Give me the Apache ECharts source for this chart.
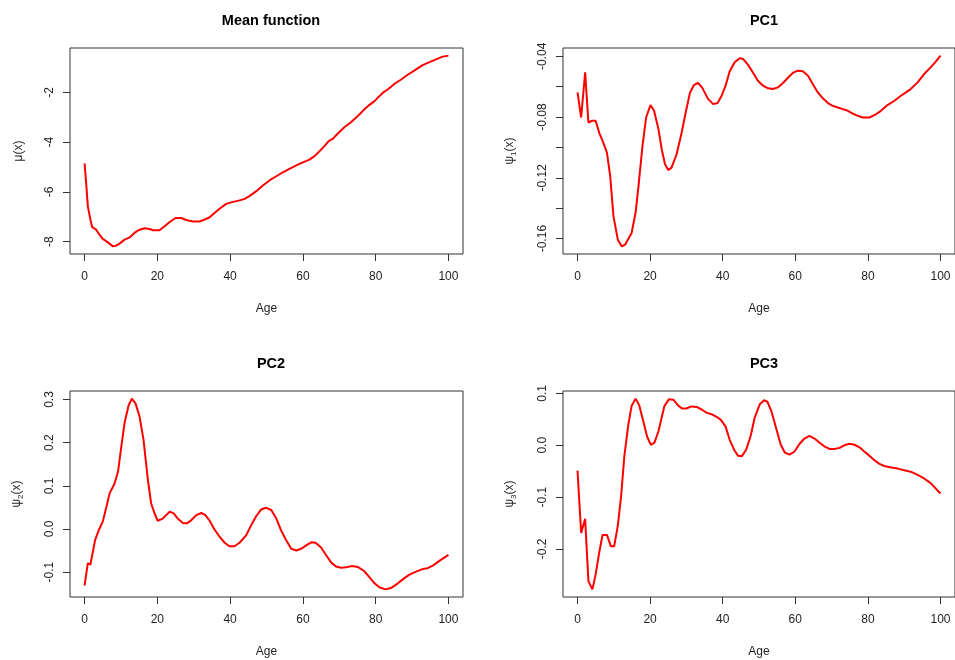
<!DOCTYPE html>
<html>
<head>
<meta charset="utf-8">
<script src="https://cdn.jsdelivr.net/npm/echarts@6/dist/echarts.min.js"></script>
<style>
  html, body { margin: 0; padding: 0; background: #fff; }
  #chart { width: 955px; height: 660px; }
</style>
</head>
<body>
<div id="chart"></div>
<script>
// Mean function mu(x) over age
const meanAge = [0,0.5,0.9,1.6,2.1,3.2,4.1,5.0,6.4,7.8,8.7,9.6,11.0,12.4,13.7,15.1,16.5,17.9,18.8,20.6,22.0,23.4,25.0,26.6,27.9,29.8,31.6,33.0,34.3,35.7,37.1,38.9,40.8,42.6,44.0,45.3,47.2,49.0,50.8,52.7,54.5,56.3,58.2,60.0,61.8,63.2,64.6,65.9,67.1,68.2,69.6,71.4,73.3,75.1,76.9,78.3,79.7,80.6,82.0,83.3,85.2,87.0,88.8,90.7,92.9,94.8,96.6,98.4,100];
const meanVal = [-4.85,-5.77,-6.58,-7.11,-7.42,-7.52,-7.72,-7.89,-8.03,-8.19,-8.16,-8.08,-7.92,-7.83,-7.65,-7.52,-7.46,-7.49,-7.54,-7.54,-7.38,-7.21,-7.05,-7.05,-7.13,-7.19,-7.19,-7.11,-7.03,-6.85,-6.68,-6.48,-6.40,-6.34,-6.28,-6.17,-5.97,-5.74,-5.54,-5.37,-5.21,-5.07,-4.93,-4.81,-4.70,-4.56,-4.36,-4.16,-3.96,-3.87,-3.65,-3.40,-3.19,-2.95,-2.68,-2.50,-2.35,-2.21,-2.01,-1.88,-1.65,-1.48,-1.29,-1.11,-0.90,-0.78,-0.67,-0.56,-0.52];

// First eigenfunction psi1(x)
const pc1Age = [0,1.0,2.1,3.0,3.9,5.0,6.0,7.1,8.1,9.0,9.9,11.1,12.2,13.1,14.9,16.0,16.8,17.9,18.9,20.1,21.1,22.3,23.2,24.1,25.0,25.9,27.3,28.7,29.8,31.0,32.1,33.2,34.3,36.0,37.4,38.6,39.7,40.8,41.9,43.3,44.7,45.6,47.0,48.4,49.7,51.1,52.5,53.8,55.2,56.6,57.9,59.3,60.7,62.1,63.5,64.8,66.2,67.6,69.0,70.3,71.7,73.1,74.5,75.8,77.2,78.6,80.4,81.8,83.6,85.4,87.3,89.1,90.5,91.8,93.7,95.5,97.3,98.7,100];
const pc1Val = [-0.0638,-0.0803,-0.0506,-0.0836,-0.0825,-0.0825,-0.0906,-0.0968,-0.1034,-0.1188,-0.1452,-0.1607,-0.1651,-0.1640,-0.1563,-0.1430,-0.1254,-0.0990,-0.0803,-0.0721,-0.0759,-0.0880,-0.1012,-0.1111,-0.1149,-0.1133,-0.1045,-0.0902,-0.0770,-0.0638,-0.0589,-0.0576,-0.0605,-0.0682,-0.0715,-0.0708,-0.0660,-0.0594,-0.0501,-0.0440,-0.0413,-0.0418,-0.0457,-0.0510,-0.0561,-0.0594,-0.0611,-0.0616,-0.0605,-0.0576,-0.0543,-0.0510,-0.0495,-0.0499,-0.0528,-0.0583,-0.0638,-0.0677,-0.0708,-0.0726,-0.0737,-0.0748,-0.0759,-0.0777,-0.0792,-0.0803,-0.0803,-0.0788,-0.0759,-0.0721,-0.0693,-0.0660,-0.0638,-0.0616,-0.0572,-0.0517,-0.0473,-0.0435,-0.0396];

// Second eigenfunction psi2(x)
const pc2Age = [0,0.9,1.6,2.1,2.9,3.9,5.0,6.0,6.9,8.2,9.2,10.1,11.0,12.1,13.0,14.0,15.1,16.2,17.4,18.3,19.2,20.1,21.5,22.4,23.4,24.5,25.6,27.0,28.1,29.3,30.7,32.1,33.2,34.3,35.7,37.1,38.5,39.8,41.2,42.6,44.4,45.8,47.2,48.5,49.9,51.3,52.7,54.0,55.4,56.8,58.2,59.5,60.9,62.3,63.5,65.0,66.4,67.8,69.1,70.5,71.9,73.5,75.1,76.9,78.3,79.7,81.0,82.7,84.2,86.1,87.9,89.3,91.1,92.9,94.3,95.7,97.5,100];
const pc2Val = [-0.131,-0.079,-0.083,-0.087,-0.026,-0.003,0.017,0.051,0.083,0.104,0.133,0.191,0.246,0.286,0.302,0.291,0.261,0.207,0.114,0.059,0.037,0.019,0.024,0.032,0.040,0.036,0.024,0.014,0.013,0.020,0.032,0.037,0.032,0.020,-0.001,-0.018,-0.032,-0.040,-0.040,-0.032,-0.015,0.009,0.030,0.045,0.049,0.044,0.024,-0.003,-0.026,-0.046,-0.050,-0.046,-0.038,-0.031,-0.032,-0.043,-0.061,-0.078,-0.087,-0.090,-0.089,-0.086,-0.088,-0.098,-0.112,-0.126,-0.135,-0.140,-0.137,-0.126,-0.114,-0.106,-0.099,-0.093,-0.091,-0.085,-0.074,-0.060];

// Third eigenfunction psi3(x)
const pc3Age = [0,1.0,2.1,3.0,4.1,5.0,6.0,6.9,8.1,9.2,10.1,11.1,12.0,12.9,14.0,14.9,16.0,17.0,18.1,19.2,20.2,21.2,22.3,23.9,25.2,26.4,27.7,28.8,30.0,31.4,32.8,34.2,35.5,36.9,38.3,39.5,40.8,41.9,43.1,44.2,45.3,46.5,47.7,48.8,50.2,51.4,52.3,53.4,54.8,56.0,57.1,58.4,59.8,61.2,62.5,63.9,65.3,66.7,68.0,69.4,70.8,72.2,73.5,74.9,76.3,77.7,79.0,80.4,81.8,83.2,84.5,86.4,88.2,90.0,91.8,93.7,95.5,97.3,100];
const pc3Val = [-0.049,-0.169,-0.142,-0.262,-0.278,-0.249,-0.206,-0.173,-0.173,-0.195,-0.195,-0.155,-0.099,-0.021,0.040,0.076,0.090,0.077,0.047,0.016,0.001,0.005,0.027,0.075,0.089,0.088,0.077,0.071,0.071,0.075,0.074,0.069,0.063,0.060,0.055,0.049,0.036,0.011,-0.008,-0.020,-0.021,-0.008,0.018,0.053,0.079,0.087,0.084,0.066,0.031,0.001,-0.014,-0.018,-0.012,0.003,0.013,0.018,0.013,0.005,-0.002,-0.007,-0.007,-0.005,0.000,0.003,0.001,-0.004,-0.012,-0.020,-0.029,-0.036,-0.040,-0.043,-0.045,-0.048,-0.051,-0.057,-0.064,-0.073,-0.093];

// Tick positions
const ageTicks = [0, 20, 40, 60, 80, 100];
const meanTicks = [-8, -6, -4, -2];
const pc1Ticks = [-0.16, -0.14, -0.12, -0.10, -0.08, -0.06, -0.04];
const pc1Labels = [-0.16, -0.12, -0.08, -0.04];
const pc2Ticks = [-0.1, 0.0, 0.1, 0.2, 0.3];
const pc3Ticks = [-0.2, -0.1, 0.0, 0.1];

const titles = ['Mean function', 'PC1', 'PC2', 'PC3'];
const yNames = ['μ(x)', '{n|ψ}{s|1}{n|(x)}', '{n|ψ}{s|2}{n|(x)}', '{n|ψ}{s|3}{n|(x)}'];

const FONT = '"Liberation Sans", Arial, sans-serif';
const LINE = '#333333';
const TEXT = '#222222';

// Padded range: data extent widened by 4% on each side
function padRange(vals) {
  const lo = Math.min(...vals), hi = Math.max(...vals);
  const d = (hi - lo) * 0.04;
  return [lo - d, hi + d];
}

const grids = [
  { left: 70, top: 48, width: 393, height: 206 },
  { left: 563, top: 48, width: 393, height: 206 },
  { left: 70, top: 391, width: 393, height: 206 },
  { left: 563, top: 391, width: 393, height: 206 }
].map(g => Object.assign({ show: true, borderColor: LINE, borderWidth: 1, backgroundColor: 'transparent' }, g));

const ages = [meanAge, pc1Age, pc2Age, pc3Age];
const vals = [meanVal, pc1Val, pc2Val, pc3Val];
const yTicks = [meanTicks, pc1Ticks, pc2Ticks, pc3Ticks];
const yLabels = [meanTicks, pc1Labels, pc2Ticks, pc3Ticks];

function fmt(v) {
  if (Math.abs(v) < 1e-9) return '0.0';
  return String(v);
}

const xAxes = ages.map((a, i) => {
  const r = padRange(a);
  return {
    type: 'value', gridIndex: i, min: r[0], max: r[1], position: 'bottom',
    name: 'Age', nameLocation: 'middle', nameGap: 49, nameMoveOverlap: false,
    nameTextStyle: { fontFamily: FONT, fontSize: 12, color: TEXT },
    axisLine: { show: false, onZero: false },
    axisTick: { show: true, length: 7, lineStyle: { color: LINE }, customValues: ageTicks },
    axisLabel: { fontFamily: FONT, fontSize: 12, color: TEXT, margin: 17, customValues: ageTicks },
    splitLine: { show: false }
  };
});

const yAxes = vals.map((v, i) => {
  const r = padRange(v);
  return {
    type: 'value', gridIndex: i, min: r[0], max: r[1], position: 'left',
    name: yNames[i], nameLocation: 'middle', nameGap: 45, nameRotate: 90, nameMoveOverlap: false,
    nameTextStyle: {
      fontFamily: FONT, fontSize: 12, color: TEXT,
      rich: {
        n: { fontFamily: FONT, fontSize: 12, color: TEXT, lineHeight: 16, verticalAlign: 'middle' },
        s: { fontFamily: FONT, fontSize: 8, color: TEXT, lineHeight: 16, verticalAlign: 'bottom' }
      }
    },
    axisLine: { show: false, onZero: false },
    axisTick: { show: true, length: 7, lineStyle: { color: LINE }, customValues: yTicks[i] },
    axisLabel: {
      fontFamily: FONT, fontSize: 12, color: TEXT, rotate: 90, margin: 14,
      customValues: yLabels[i], formatter: fmt
    },
    splitLine: { show: false }
  };
});

const series = vals.map((v, i) => ({
  type: 'line', xAxisIndex: i, yAxisIndex: i,
  data: ages[i].map((a, k) => [a, v[k]]),
  showSymbol: false, smooth: false, silent: true,
  lineStyle: { color: '#ff0000', width: 2 }
}));

const titleCenters = [[266, 8], [759, 8], [266, 351], [759, 351]];
const title = titles.map((t, i) => ({
  text: t, left: titleCenters[i][0], top: titleCenters[i][1], textAlign: 'center',
  textStyle: { fontFamily: FONT, fontSize: 14.5, fontWeight: 'bold', color: '#000' }
}));

const chart = echarts.init(document.getElementById('chart'), null, { renderer: 'canvas' });
chart.setOption({
  animation: false,
  backgroundColor: '#ffffff',
  title: title,
  grid: grids,
  xAxis: xAxes,
  yAxis: yAxes,
  series: series
});
</script>
</body>
</html>
